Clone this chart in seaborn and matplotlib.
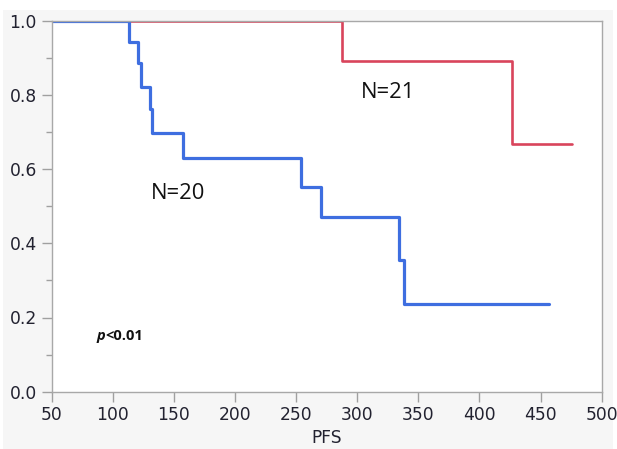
import matplotlib
matplotlib.use("Agg")
import matplotlib.pyplot as plt
import matplotlib.patches as mpatches
from matplotlib.ticker import MultipleLocator
import seaborn as sns
import pandas as pd

# ---- data ----
blue_time = [50, 113.7, 121.0, 123.2, 130.6, 132.2, 157.9, 254.2, 270.5, 334.6, 338.2, 456.5]
blue_surv = [1.0, 0.943, 0.887, 0.821, 0.761, 0.698, 0.630, 0.551, 0.470, 0.354, 0.236, 0.236]
red_time = [50, 287.5, 426.6, 475.7]
red_surv = [1.0, 0.891, 0.668, 0.668]

x_ticks = [50, 100, 150, 200, 250, 300, 350, 400, 450, 500]
y_ticks = [0.0, 0.2, 0.4, 0.6, 0.8, 1.0]
label_blue = "N=20"
label_red = "N=21"
p_text = "<0.01"

sns.set_style("white")
plt.rcParams["font.family"] = ["DejaVu Sans"]

fig = plt.figure(figsize=(6.17, 4.49), dpi=100)
fig.patch.set_facecolor("white")
fig.patches.append(mpatches.Rectangle((3 / 617, 0), 610 / 617, 1 - 10 / 449,
                                      transform=fig.transFigure, facecolor="#f6f6f6",
                                      edgecolor="none", zorder=-10))
ax = fig.add_axes([51.5 / 617, 1 - 391.7 / 449, (601.7 - 51.5) / 617, (391.7 - 20.7) / 449])
ax.set_facecolor("white")

df_red = pd.DataFrame({"time": red_time, "surv": red_surv})
df_blue = pd.DataFrame({"time": blue_time, "surv": blue_surv})
sns.lineplot(data=df_red, x="time", y="surv", ax=ax, color="#d9445b", linewidth=1.9,
             drawstyle="steps-post", estimator=None, sort=False)
sns.lineplot(data=df_blue, x="time", y="surv", ax=ax, color="#3e6ee0", linewidth=2.3,
             drawstyle="steps-post", estimator=None, sort=False)

ax.set_xlim(50, 500)
ax.set_ylim(0, 1.0)
ax.set_xticks(x_ticks)
ax.set_yticks(y_ticks)
ax.set_yticklabels([f"{v:.1f}" for v in y_ticks])
ax.yaxis.set_minor_locator(MultipleLocator(0.1))
ax.tick_params(axis="both", which="major", direction="out", length=7, width=1,
               color="#a0a0a0", labelsize=12.3, labelcolor="#222230", pad=3.5)
ax.tick_params(axis="y", which="minor", direction="out", length=4.5, width=1,
               color="#a0a0a0", left=True)
ax.tick_params(axis="x", which="both", bottom=True)
ax.tick_params(axis="y", which="major", left=True)
for s in ax.spines.values():
    s.set_color("#a8a8a8")
    s.set_linewidth(1.0)
ax.set_xlabel("")
ax.set_ylabel("")

ax.text(153.3, 0.535, label_blue, fontsize=15.8, family=["Open Sans", "DejaVu Sans"],
        ha="center", va="center", color="#111111")
ax.text(325, 0.806, label_red, fontsize=15.8, family=["Open Sans", "DejaVu Sans"],
        ha="center", va="center", color="#111111")
t1 = ax.text(86.5, 0.150, "p", fontsize=10.5, family=["Open Sans", "DejaVu Sans"],
             fontweight="bold", fontstyle="italic", ha="left", va="center", color="#111111")
ax.annotate(p_text, xy=(1, 0), xycoords=t1, fontsize=10.5,
            family=["Open Sans", "DejaVu Sans"], fontweight="bold",
            ha="left", va="bottom", color="#111111")

fig.text(326.6 / 617, 1 - 429 / 449, "PFS", fontsize=12.3, ha="center", va="top",
         color="#222230")

fig.savefig("out.png", dpi=100)
